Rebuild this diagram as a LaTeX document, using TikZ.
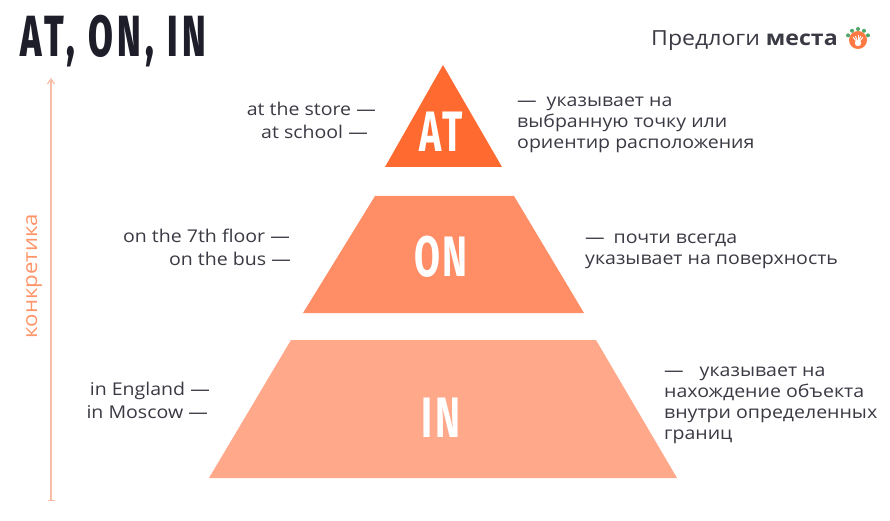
\documentclass[tikz,border=0pt]{standalone}
\usepackage{fontspec}
\setmainfont[FakeStretch=1.11]{Open Sans}
\newfontfamily\headfont[FakeStretch=0.62,LetterSpace=8]{Fira Sans ExtraBold}
\newfontfamily\tierfont[FakeStretch=0.66,LetterSpace=4]{Fira Sans Bold}
\usetikzlibrary{arrows.meta}
\definecolor{ink}{HTML}{3A3A44}
\definecolor{headink}{HTML}{1E1E2A}
\definecolor{atc}{HTML}{FF6A30}
\definecolor{onc}{HTML}{FF8D66}
\definecolor{inc}{HTML}{FFA98A}
\definecolor{axisc}{HTML}{F9BDA5}
\definecolor{konkc}{HTML}{FF9468}
\definecolor{leafg}{HTML}{4FA66B}
\tikzset{
  x=1pt,y=-1pt,
  lab/.style={font=\fontsize{17.6}{18}\selectfont,text=ink,inner sep=0pt},
  leftlab/.style={lab,anchor=base east},
  rightlab/.style={lab,anchor=base west},
  tierlab/.style={font=\tierfont\fontsize{57}{57}\selectfont,text=white,inner sep=0pt,anchor=base},
  axisline/.style={draw=axisc,line width=1.2pt,{Bar[width=7pt]}-{Straight Barb[length=5pt,width=7pt]}},
}
\begin{document}
\begin{tikzpicture}
\useasboundingbox (0,0) rectangle (890,521);
\fill[white] (0,0) rectangle (890,521);
% title
\node[font=\headfont\fontsize{58}{58}\selectfont,text=headink,inner sep=0pt,anchor=base west] (title) at (20,57) {AT, ON, IN};
% header right
\node[font=\fontsize{20.8}{22}\selectfont,text=ink,inner sep=0pt,anchor=base west] (hdr) at (651,46) {Предлоги \textbf{места}};
% icon
\fill[atc!90!white] (858,40) circle (9);
\foreach \a in {205,237,270,303,335}{\fill[leafg] (858,40) ++(\a:11) circle (2);}
\fill[white] (858,43) circle (3.2);
\foreach \a in {50,70,90,110,130}{\draw[white,line width=1pt] (858,43) -- ++(\a:-7.5);}
% axis
\coordinate (axb) at (51,501);
\coordinate (axt) at (51,78);
\draw[axisline] (axb) -- (axt);
\node[font=\fontsize{20}{21}\selectfont,text=konkc,rotate=90,inner sep=0pt] (konk) at (34,276) {конкретика};
% pyramid
\fill[atc] (443,65) -- (502,167) -- (385,167) -- cycle;
\fill[onc] (375,196) -- (514,196) -- (584,313) -- (303,313) -- cycle;
\fill[inc] (291,340) -- (596,340) -- (677,478) -- (209,478) -- cycle;
\node[tierlab] (at) at (441,152) {AT};
\node[tierlab] (on) at (441,276) {ON};
\node[tierlab] (in) at (441,437) {IN};
% left labels
\node[leftlab] (l1) at (376,116) {at the store —};
\node[leftlab] (l2) at (368,139) {at school —};
\node[leftlab] (l3) at (290,242) {on the 7th floor —};
\node[leftlab] (l4) at (291,265) {on the bus —};
\node[leftlab] (l5) at (210,395) {in England —};
\node[leftlab] (l6) at (208,418) {in Moscow —};
% right labels
\node[rightlab] (r1) at (517,107) {—\hspace{10pt}указывает на};
\node[rightlab] (r2) at (517,128) {выбранную точку или};
\node[rightlab] (r3) at (517,149) {ориентир расположения};
\node[rightlab] (r4) at (585,243) {—\hspace{9pt}почти всегда};
\node[rightlab] (r5) at (585,264) {указывает на поверхность};
\node[rightlab] (r6) at (664,376) {—\hspace{16pt}указывает на};
\node[rightlab] (r7) at (664,397) {нахождение объекта};
\node[rightlab] (r8) at (664,418) {внутри определенных};
\node[rightlab] (r9) at (664,439) {границ};
\end{tikzpicture}
\end{document}
